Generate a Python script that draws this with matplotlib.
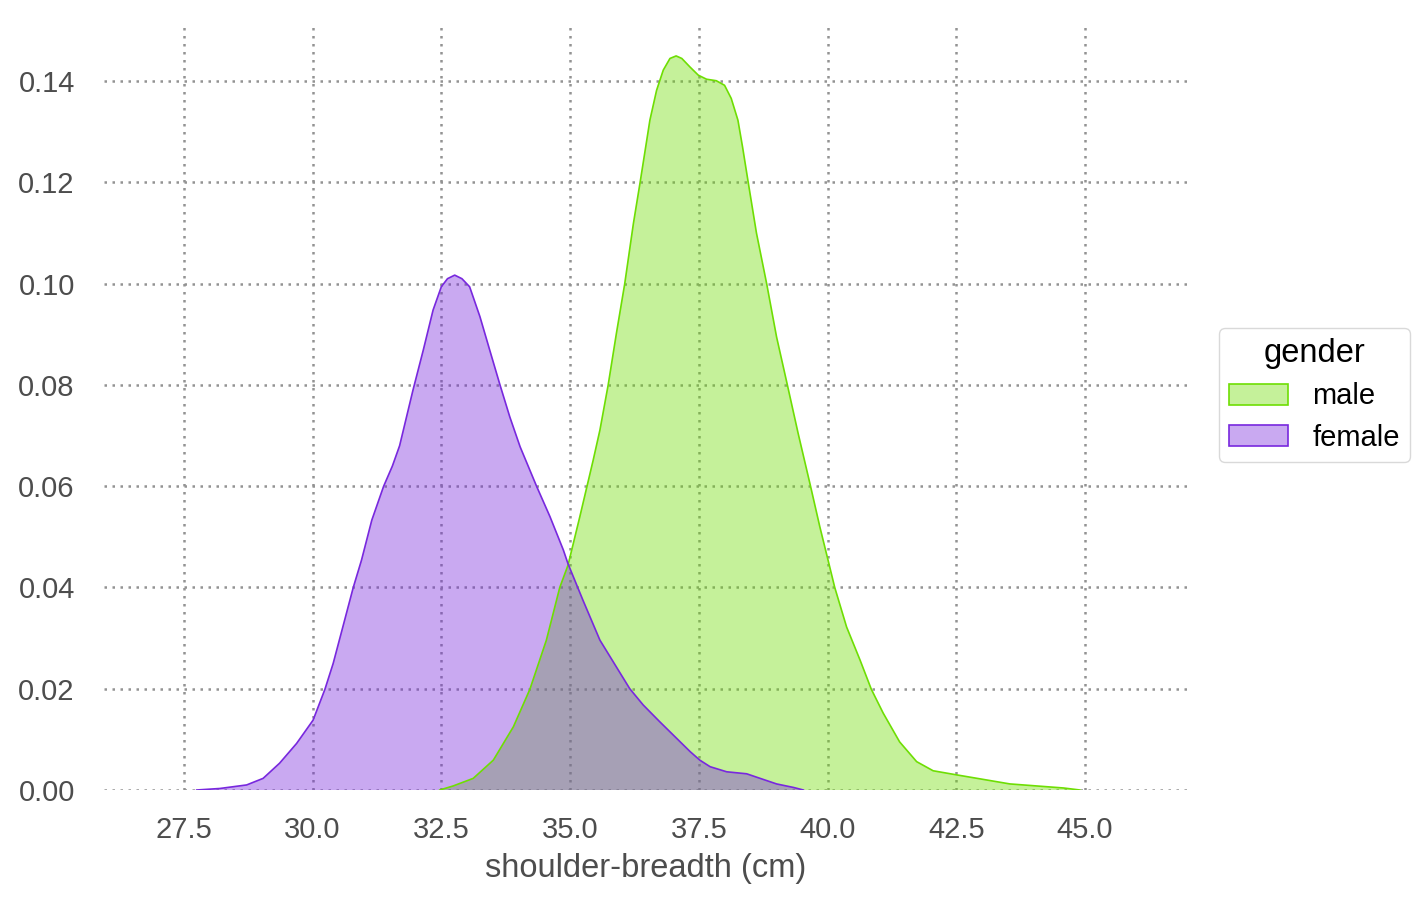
import matplotlib
matplotlib.use("Agg")
import matplotlib.pyplot as plt
from matplotlib.patches import Patch

# ---- data (KDE curves) ----
male_x = [32.47, 32.73, 33.12, 33.51, 33.90, 34.22, 34.54, 34.80, 34.96, 35.19,
          35.45, 35.58, 35.74, 35.90, 36.06, 36.23, 36.36, 36.49, 36.55, 36.68,
          36.81, 36.94, 37.06, 37.17, 37.33, 37.49, 37.65, 37.84, 38.00, 38.13,
          38.26, 38.35, 38.46, 38.62, 38.82, 39.01, 39.22, 39.43, 39.67, 39.85,
          40.01, 40.14, 40.37, 40.63, 40.85, 41.08, 41.40, 41.73, 42.05, 42.50,
          43.02, 43.54, 44.06, 44.58, 44.90]
male_y = [0.0, 0.0008, 0.0023, 0.0059, 0.0125, 0.0199, 0.0296, 0.0400, 0.0444, 0.0540,
          0.0652, 0.0711, 0.0800, 0.0902, 0.0999, 0.1119, 0.1200, 0.1284, 0.1323, 0.1382,
          0.1422, 0.1445, 0.1450, 0.1445, 0.1428, 0.1412, 0.1404, 0.1401, 0.1392, 0.1366,
          0.1323, 0.1270, 0.1200, 0.1100, 0.0999, 0.0895, 0.0800, 0.0704, 0.0600, 0.0520,
          0.0454, 0.0400, 0.0322, 0.0257, 0.0199, 0.0152, 0.0095, 0.0056, 0.0038, 0.0030,
          0.0021, 0.0012, 0.0008, 0.0004, 0.0]

female_x = [27.75, 28.20, 28.72, 29.04, 29.36, 29.69, 30.01, 30.24, 30.40, 30.59,
            30.79, 30.95, 31.15, 31.38, 31.55, 31.69, 31.95, 32.15, 32.34, 32.50, 32.62,
            32.76, 32.90, 33.05, 33.25, 33.44, 33.64, 33.83, 34.03, 34.35, 34.61,
            34.87, 34.96, 35.25, 35.58, 35.90, 36.16, 36.42, 36.74, 37.07, 37.33,
            37.52, 37.72, 38.04, 38.43, 38.69, 39.01, 39.34, 39.53]
female_y = [0.0, 0.0003, 0.0010, 0.0023, 0.0053, 0.0092, 0.0138, 0.0199, 0.0250, 0.0323,
            0.0400, 0.0454, 0.0533, 0.0600, 0.0640, 0.0680, 0.0790, 0.0869, 0.0948, 0.0994, 0.1010,
            0.1017, 0.1010, 0.0994, 0.0935, 0.0869, 0.0800, 0.0737, 0.0678, 0.0600, 0.0540,
            0.0474, 0.0447, 0.0375, 0.0296, 0.0243, 0.0200, 0.0168, 0.0135, 0.0102, 0.0076,
            0.0059, 0.0046, 0.0036, 0.0032, 0.0023, 0.0012, 0.0005, 0.0]

hue_levels = ["male", "female"]
colors = {"male": "#6ede03", "female": "#7828de"}
x_ticks = [27.5, 30.0, 32.5, 35.0, 37.5, 40.0, 42.5, 45.0]
y_ticks = [0.00, 0.02, 0.04, 0.06, 0.08, 0.10, 0.12, 0.14]

plt.rcParams['font.family'] = ['Liberation Sans', 'DejaVu Sans']

fig = plt.figure(figsize=(14.22, 9.02), dpi=100)
ax = fig.add_axes([104 / 1422, 1 - 790 / 902, (1187 - 104) / 1422, (790 - 22) / 902])

ALPHA = 0.4
series = {"male": (male_x, male_y), "female": (female_x, female_y)}
for lvl in hue_levels:
    xs, ys = series[lvl]
    ax.fill_between(xs, 0, ys, facecolor=colors[lvl], alpha=ALPHA, linewidth=0)
    ax.plot(xs, ys, color=colors[lvl], linewidth=1.2, solid_joinstyle="round")

ax.set_xlim(25.95, 46.98)
ax.set_ylim(0, 0.1517)
ax.set_xticks(x_ticks)
ax.set_xticklabels([f"{v:.1f}" for v in x_ticks])
ax.set_yticks(y_ticks)
ax.set_yticklabels([f"{v:.2f}" for v in y_ticks])

for s in ax.spines.values():
    s.set_visible(False)
ax.set_axisbelow(True)
ax.grid(True, color="#939393", linestyle=(0, (1, 2.2)), linewidth=1.8)
ax.tick_params(axis="both", length=0, labelsize=21, labelcolor="#4d4d4d")
ax.tick_params(axis="x", pad=19)
ax.tick_params(axis="y", pad=21)
ax.set_xlabel("shoulder-breadth (cm)", fontsize=23.5, color="#4d4d4d", labelpad=6)

handles = [Patch(facecolor=(*matplotlib.colors.to_rgb(colors[l]), ALPHA),
                 edgecolor=colors[l], linewidth=1.2, label=l) for l in hue_levels]
leg = fig.legend(handles=handles, title="gender", loc="center left",
                 bbox_to_anchor=(1219 / 1422, 1 - 395 / 902), fontsize=21,
                 title_fontsize=23.5, frameon=True, fancybox=True,
                 handlelength=2.0, handleheight=0.75, handletextpad=0.85,
                 labelspacing=0.45, borderpad=0.35, borderaxespad=0.0)
leg.get_frame().set_edgecolor("#d0d0d0")
leg.get_frame().set_linewidth(1.0)

fig.savefig("out.png", dpi=100)
